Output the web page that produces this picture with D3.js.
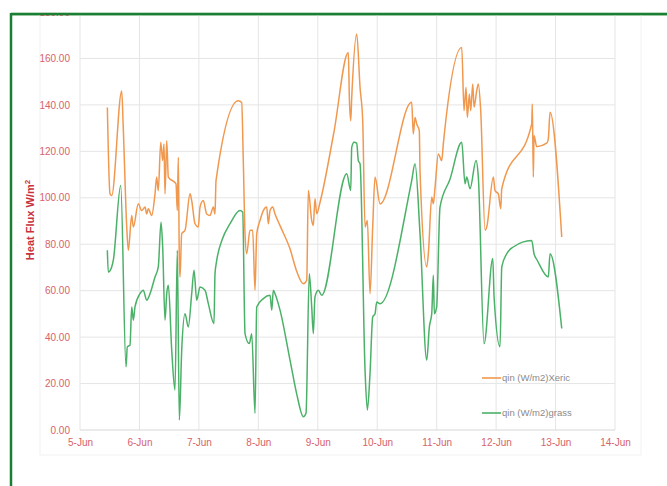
<!DOCTYPE html>
<html>
<head>
<meta charset="utf-8">
<script src="https://cdn.jsdelivr.net/npm/d3@7"></script>
<style>
  body { margin: 0; background: #fff; }
  svg { display: block; font-family: "Liberation Sans", Arial, sans-serif; }
  .tick-label { fill: #d6636a; font-size: 10px; }
  .legend-label { fill: #8a8a8a; font-size: 9.5px; }
</style>
</head>
<body>
<svg id="chart" width="667" height="486"></svg>
<script>
// x values are days after 5-Jun 00:00
const dayLabels = ["5-Jun", "6-Jun", "7-Jun", "8-Jun", "9-Jun", "10-Jun", "11-Jun", "12-Jun", "13-Jun", "14-Jun"]
const yTicks = [0, 20, 40, 60, 80, 100, 120, 140, 160, 180]
const seriesNames = ["qin (W/m2)Xeric", "qin (W/m2)grass"]

const xericDays = [0.46, 0.505, 0.533, 0.702, 0.728, 0.786, 0.813, 0.87, 0.897, 0.981, 1.038, 1.094, 1.122, 1.149, 1.206, 1.262, 1.29, 1.317, 1.358, 1.391, 1.413, 1.43, 1.459, 1.486, 1.615, 1.637, 1.654, 1.671, 1.682, 1.711, 1.767, 1.851, 1.879, 1.935, 1.99, 2.019, 2.074, 2.132, 2.187, 2.243, 2.271, 2.288, 2.663, 2.72, 2.747, 2.776, 2.804, 2.86, 2.905, 2.944, 2.973, 3.028, 3.084, 3.141, 3.168, 3.197, 3.242, 3.281, 3.365, 3.533, 3.65, 3.757, 3.814, 3.841, 3.898, 3.925, 3.953, 3.982, 4.038, 4.27, 4.514, 4.531, 4.554, 4.571, 4.655, 4.711, 4.756, 4.795, 4.834, 4.879, 4.924, 4.963, 5.047, 5.58, 5.607, 5.636, 5.664, 5.708, 5.72, 5.833, 5.86, 5.917, 5.944, 5.973, 6.028, 6.085, 6.112, 6.422, 6.46, 6.494, 6.516, 6.55, 6.573, 6.607, 6.629, 6.674, 6.701, 6.741, 6.814, 6.842, 6.953, 6.982, 7.037, 7.078, 7.095, 7.599, 7.609, 7.626, 7.638, 7.683, 7.851, 7.878, 7.907, 8.104]
const xericFlux = [138.9, 101.7, 101, 146, 130, 87.4, 77.4, 92.4, 87.4, 97.4, 94.5, 96, 93, 95.3, 92.4, 101.7, 108.9, 103, 123.9, 116, 123.2, 101.7, 124.6, 108.9, 106, 94.5, 117.4, 73, 65.9, 84.5, 86, 101.7, 98.8, 88.8, 87.4, 96, 98.8, 93, 92.4, 96, 93, 107.4, 141.8, 141, 116, 84.5, 75.9, 86, 86, 60.2, 84.5, 90.2, 94.5, 96, 88.8, 94.5, 96, 93, 88, 78, 68, 63, 64.5, 103.1, 90.2, 88.1, 99.6, 93.1, 98.1, 128, 162.6, 143.2, 133.2, 143.2, 170.5, 147.5, 133.2, 87.4, 90.2, 58.7, 87.4, 108.9, 97.4, 141.1, 127.5, 134.6, 131.8, 128.9, 111.7, 70.2, 75.9, 100.3, 97.4, 104.6, 118.9, 116, 123.2, 164.7, 137.5, 147.5, 134.6, 144.7, 137.5, 149, 139, 146.1, 149, 137.5, 86, 87.4, 108.9, 103.1, 101.7, 95.3, 103.9, 131.8, 140.4, 108.9, 126.8, 122, 123.5, 125.3, 136.8, 83.1]

const grassDays = [0.46, 0.476, 0.533, 0.56, 0.685, 0.774, 0.796, 0.841, 0.87, 0.897, 0.925, 1.009, 1.065, 1.122, 1.178, 1.262, 1.317, 1.363, 1.391, 1.43, 1.459, 1.486, 1.543, 1.598, 1.637, 1.671, 1.711, 1.767, 1.822, 1.879, 1.918, 1.963, 2.019, 2.103, 2.159, 2.254, 2.271, 2.3, 2.392, 2.527, 2.692, 2.737, 2.776, 2.848, 2.889, 2.944, 2.973, 3.084, 3.197, 3.226, 3.252, 3.281, 3.365, 3.533, 3.65, 3.757, 3.802, 3.857, 3.898, 3.925, 3.953, 4.009, 4.066, 4.487, 4.554, 4.571, 4.61, 4.655, 4.682, 4.711, 4.795, 4.834, 4.879, 4.924, 4.963, 4.992, 5.047, 5.58, 5.636, 5.72, 5.833, 5.877, 5.917, 5.944, 5.961, 6.0, 6.056, 6.224, 6.422, 6.477, 6.506, 6.561, 6.662, 6.701, 6.797, 6.944, 6.966, 7.066, 7.095, 7.179, 7.29, 7.599, 7.638, 7.694, 7.878, 7.907, 8.104]
const grassFlux = [77.4, 68, 70.2, 73, 105.3, 27.2, 35.8, 36.5, 53, 47.3, 53, 58.7, 60.2, 55.9, 58.7, 65.9, 70.2, 89.5, 78.8, 47.3, 58.7, 62.3, 34.4, 17.2, 77.4, 4.3, 34.4, 50.1, 44.4, 58.7, 68.8, 55.9, 61.6, 60.2, 54.4, 45.8, 67.3, 73, 82, 89, 94.5, 93.8, 41.5, 37.2, 41.5, 7.2, 53, 56.6, 58, 51.6, 60.2, 58.7, 51.6, 30.1, 15, 5.7, 7.2, 67.3, 53, 41.5, 57.3, 60.2, 58, 110.3, 103.1, 121.7, 123.9, 123.5, 116, 114.6, 25.8, 8.6, 24.4, 48.7, 50.1, 55.1, 54.4, 107.4, 114.6, 84.5, 30.1, 44.4, 50.1, 66.6, 50.1, 53, 96, 108, 123.9, 106, 108.9, 103.9, 116, 108.9, 37.2, 73.8, 57.3, 35.8, 70.2, 75.9, 78.8, 81.6, 75.9, 73, 65.9, 75.9, 43.7]

const seriesColors = ["#f1984f", "#4bb168"]

const svg = d3.select("#chart")

// chart frame (cropped Excel chart with a green border)
svg.append("rect")
    .attr("x", 11).attr("y", 14)
    .attr("width", 690).attr("height", 520)
    .attr("fill", "#fff")
    .attr("stroke", "#1b7f33")
    .attr("stroke-width", 2.5)

svg.append("rect")
    .attr("x", 40).attr("y", 14)
    .attr("width", 601).attr("height", 441)
    .attr("fill", "none")
    .attr("stroke", "#f2f2f2")

const x = d3.scaleLinear().domain([0, 9]).range([80, 615])
const y = d3.scaleLinear().domain([0, 180]).range([430, 12])

const grid = svg.append("g")
grid.selectAll(".hgrid")
    .data(yTicks.slice(1))
    .join("line")
    .attr("x1", x(0)).attr("x2", x(9))
    .attr("y1", d => y(d)).attr("y2", d => y(d))
    .attr("stroke", "#e5e5e5")
grid.selectAll(".vgrid")
    .data(d3.range(1, dayLabels.length))
    .join("line")
    .attr("x1", d => x(d)).attr("x2", d => x(d))
    .attr("y1", y(0)).attr("y2", y(180))
    .attr("stroke", "#e5e5e5")

// axis line at zero
svg.append("line")
    .attr("x1", x(0)).attr("x2", x(9))
    .attr("y1", y(0)).attr("y2", y(0))
    .attr("stroke", "#d6d6d6")
svg.append("line")
    .attr("x1", x(0)).attr("x2", x(0))
    .attr("y1", y(0)).attr("y2", y(180))
    .attr("stroke", "#e5e5e5")

const yAxis = d3.axisLeft(y).tickValues(yTicks).tickSize(0).tickPadding(10)
    .tickFormat(d => d.toFixed(2))
svg.append("g")
    .attr("transform", `translate(${x(0)},0)`)
    .call(yAxis)
    .call(g => g.select(".domain").remove())
    .selectAll("text")
    .attr("class", "tick-label")
    .attr("font-family", null)
    .attr("font-size", null)
    .attr("fill", null)

const xAxis = d3.axisBottom(x).tickValues(d3.range(dayLabels.length)).tickSize(0).tickPadding(9)
    .tickFormat(i => dayLabels[i])
svg.append("g")
    .attr("transform", `translate(0,${y(0)})`)
    .call(xAxis)
    .call(g => g.select(".domain").remove())
    .selectAll("text")
    .attr("class", "tick-label")
    .attr("font-family", null)
    .attr("font-size", null)
    .attr("fill", null)

// cover above the frame so the top label is clipped like the original
svg.append("rect")
    .attr("x", 0).attr("y", 0).attr("width", 667).attr("height", 12.8)
    .attr("fill", "#fff")
svg.append("line")
    .attr("x1", 11).attr("x2", 667).attr("y1", 14).attr("y2", 14)
    .attr("stroke", "#1b7f33").attr("stroke-width", 2.5)

// Y label
svg.append("text")
    .attr("transform", "translate(34, 220) rotate(-90)")
    .attr("text-anchor", "middle")
    .attr("font-size", "11px")
    .attr("font-weight", "bold")
    .attr("fill", "#c8313b")
    .html('Heat Flux W/m<tspan dy="-4" font-size="8px">2</tspan>')

// smoothed lines like Excel
const line = d3.line()
    .x(d => x(d[0]))
    .y(d => y(d[1]))
    .curve(d3.curveMonotoneX)

const series = [
    d3.zip(xericDays, xericFlux),
    d3.zip(grassDays, grassFlux)
]

svg.selectAll(".series")
    .data(series)
    .join("path")
    .attr("class", "series")
    .attr("d", line)
    .attr("fill", "none")
    .attr("stroke", (d, i) => seriesColors[i])
    .attr("stroke-width", 1.5)
    .attr("stroke-linejoin", "round")

// legend
const legend = svg.append("g")
    .attr("transform", "translate(482, 378)")
legend.selectAll("g")
    .data(seriesNames)
    .join("g")
    .attr("transform", (d, i) => `translate(0, ${i * 35})`)
    .each(function(d, i) {
        const g = d3.select(this)
        g.append("line")
            .attr("x1", 0).attr("x2", 19)
            .attr("stroke", seriesColors[i])
            .attr("stroke-width", 1.6)
        g.append("text")
            .attr("class", "legend-label")
            .attr("x", 20)
            .attr("dy", "0.35em")
            .text(d)
    })
</script>
</body>
</html>
